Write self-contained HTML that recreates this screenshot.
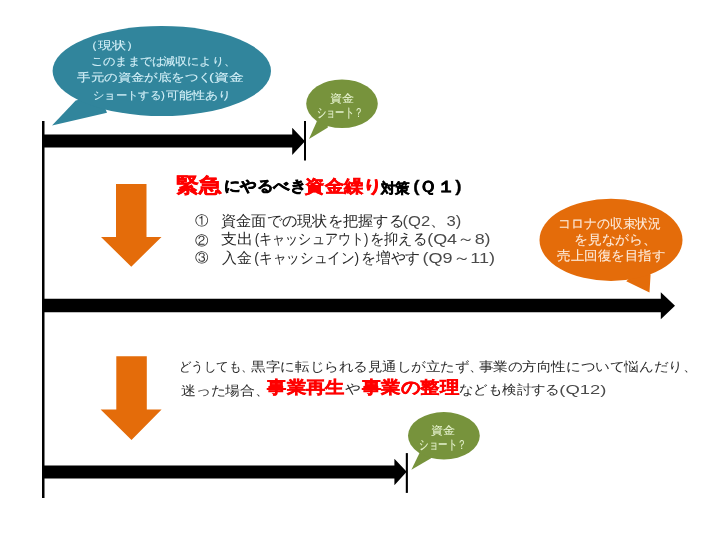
<!DOCTYPE html>
<html lang="ja">
<head>
<meta charset="utf-8">
<style>
html,body{margin:0;padding:0;background:#fff;}
body{width:720px;height:540px;overflow:hidden;font-family:"Liberation Sans",sans-serif;}
svg{display:block;will-change:transform;}
text{font-family:"Liberation Sans",sans-serif;}
</style>
</head>
<body>
<svg width="720" height="540" viewBox="0 0 720 540">
<rect x="42" y="121" width="2.5" height="377" fill="#000"/>
<path d="M75.7,100.5 L52,125.6 L107,112.7 L100,95 Z" fill="#31859C"/>
<ellipse cx="161.8" cy="71" rx="109.2" ry="45" fill="#31859C"/>
<path d="M43,134.4 L292.2,134.4 L292.2,127.8 L305,141.3 L292.2,155 L292.2,147.6 L43,147.6 Z" fill="#000"/>
<rect x="304" y="121" width="2" height="39.5" fill="#000"/>
<path d="M316.8,121.6 L309,139.1 L327.9,127.5 L326,115 Z" fill="#77933C"/>
<ellipse cx="342" cy="103.8" rx="35.8" ry="24.3" fill="#77933C"/>
<path d="M116,184 L146.5,184 L146.5,237 L161.5,237 L131.25,266.7 L101,237 L116,237 Z" fill="#E46C0A"/>
<path d="M626.25,281.25 L649.5,292.5 L650.6,274.4 L640,268 Z" fill="#E46C0A"/>
<ellipse cx="611" cy="239.9" rx="71.5" ry="41.1" fill="#E46C0A"/>
<path d="M43,298.75 L660.8,298.75 L660.8,292.2 L675,305.7 L660.8,319.2 L660.8,312.2 L43,312.2 Z" fill="#000"/>
<path d="M116.3,356.3 L146.8,356.3 L146.8,409.6 L161.6,409.6 L131.5,440.1 L100.6,409.6 L116.3,409.6 Z" fill="#E46C0A"/>
<path d="M43,465.4 L394.4,465.4 L394.4,458.7 L406.7,471.7 L394.4,485.2 L394.4,478.6 L43,478.6 Z" fill="#000"/>
<rect x="405.8" y="453.1" width="2.1" height="39.8" fill="#000"/>
<path d="M419.5,453 L411.4,469.8 L431.1,458.2 L429,447 Z" fill="#77933C"/>
<ellipse cx="443.9" cy="435.8" rx="35.9" ry="23.7" fill="#77933C"/>

<text id="t1" x="84.39" y="48.50" font-size="11.20" fill="#D4F0F8" stroke="#D4F0F8" stroke-width="0.1" textLength="56.15" lengthAdjust="spacingAndGlyphs">（現状）</text>
<text id="t2b" x="162.86" y="65.40" font-size="11.20" fill="#D4F0F8" stroke="#D4F0F8" stroke-width="0.1" textLength="73.16" lengthAdjust="spacingAndGlyphs">減収により、</text>
<text id="t2a" x="90.70" y="65.40" font-size="11.20" fill="#D4F0F8" stroke="#D4F0F8" stroke-width="0.1" textLength="73.72" lengthAdjust="spacingAndGlyphs">このままでは</text>
<text id="t3a" x="77.31" y="81.25" font-size="11.20" fill="#D4F0F8" stroke="#D4F0F8" stroke-width="0.1" textLength="134.40" lengthAdjust="spacingAndGlyphs">手元の資金が底をつく</text>
<text id="t3b" x="208.99" y="81.25" font-size="11.20" fill="#D4F0F8" stroke="#D4F0F8" stroke-width="0.1" textLength="35.18" lengthAdjust="spacingAndGlyphs">(資金</text>
<text id="t4b" x="166.05" y="99.00" font-size="11.20" fill="#D4F0F8" stroke="#D4F0F8" stroke-width="0.1" textLength="64.92" lengthAdjust="spacingAndGlyphs">可能性あり</text>
<text id="t4a" x="92.91" y="99.00" font-size="11.20" fill="#D4F0F8" stroke="#D4F0F8" stroke-width="0.1" textLength="71.85" lengthAdjust="spacingAndGlyphs">ショートする)</text>
<text id="g1a" x="329.59" y="102.00" font-size="10.70" fill="#E6F3CF" stroke="#E6F3CF" stroke-width="0.1" textLength="24.13" lengthAdjust="spacingAndGlyphs">資金</text>
<text id="g1b" x="316.90" y="117.20" font-size="12.70" fill="#E6F3CF" stroke="#E6F3CF" stroke-width="0.1" textLength="46.36" lengthAdjust="spacingAndGlyphs">ショート？</text>
<text id="k1" x="175.98" y="191.50" font-size="19.57" fill="#FF0000" font-weight="bold" stroke="#FF0000" stroke-width="0.6" textLength="45.21" lengthAdjust="spacingAndGlyphs">緊急</text>
<text id="k2" x="223.74" y="191.00" font-size="15.40" fill="#000000" font-weight="bold" stroke="#000000" stroke-width="0.55" textLength="82.23" lengthAdjust="spacingAndGlyphs">にやるべき</text>
<text id="k3" x="305.36" y="191.70" font-size="17.36" fill="#FF0000" font-weight="bold" stroke="#FF0000" stroke-width="0.55" textLength="76.86" lengthAdjust="spacingAndGlyphs">資金繰り</text>
<text id="k4" x="380.86" y="192.50" font-size="14.28" fill="#000000" font-weight="bold" stroke="#000000" stroke-width="0.55" textLength="28.97" lengthAdjust="spacingAndGlyphs">対策</text>
<text id="k5" x="413.17" y="192.00" font-size="16.34" fill="#000000" font-weight="bold" stroke="#000000" stroke-width="0.3" textLength="48.27" lengthAdjust="spacingAndGlyphs">(Ｑ１)</text>
<text id="n1" x="195.22" y="225.30" font-size="12.60" fill="#2A2A2A" textLength="13.49" lengthAdjust="spacingAndGlyphs">①</text>
<text id="l1a" x="220.77" y="225.60" font-size="15.30" fill="#2A2A2A" textLength="183.27" lengthAdjust="spacingAndGlyphs">資金面での現状を把握する</text>
<text id="l1b" x="402.41" y="225.60" font-size="15.30" fill="#4A4A4A" textLength="58.87" lengthAdjust="spacingAndGlyphs">(Q2、3)</text>
<text id="n2" x="195.22" y="244.60" font-size="12.60" fill="#2A2A2A" textLength="13.49" lengthAdjust="spacingAndGlyphs">②</text>
<text id="l2a" x="220.69" y="244.40" font-size="15.30" fill="#2A2A2A" textLength="32.18" lengthAdjust="spacingAndGlyphs">支出</text>
<text id="l2b" x="254.77" y="244.40" font-size="15.30" fill="#2A2A2A" textLength="113.66" lengthAdjust="spacingAndGlyphs">(キャッシュアウト)</text>
<text id="l2c" x="369.84" y="244.40" font-size="15.30" fill="#2A2A2A" textLength="56.92" lengthAdjust="spacingAndGlyphs">を抑える</text>
<text id="l2d" x="427.16" y="244.40" font-size="15.30" fill="#4A4A4A" textLength="63.45" lengthAdjust="spacingAndGlyphs">(Q4～8)</text>
<text id="n3" x="195.22" y="262.20" font-size="12.60" fill="#2A2A2A" textLength="13.49" lengthAdjust="spacingAndGlyphs">③</text>
<text id="l3a" x="222.38" y="262.90" font-size="15.30" fill="#2A2A2A" textLength="29.85" lengthAdjust="spacingAndGlyphs">入金</text>
<text id="l3b" x="254.36" y="262.90" font-size="15.30" fill="#2A2A2A" textLength="104.67" lengthAdjust="spacingAndGlyphs">(キャッシュイン)</text>
<text id="l3c" x="361.07" y="262.90" font-size="15.30" fill="#2A2A2A" textLength="59.22" lengthAdjust="spacingAndGlyphs">を増やす</text>
<text id="l3d" x="422.41" y="262.90" font-size="15.30" fill="#4A4A4A" textLength="72.62" lengthAdjust="spacingAndGlyphs">(Q9～11)</text>
<text id="o1" x="558.36" y="227.70" font-size="12.60" fill="#FDEADA" stroke="#FDEADA" stroke-width="0.1" textLength="102.66" lengthAdjust="spacingAndGlyphs">コロナの収束状況</text>
<text id="o2" x="574.11" y="243.60" font-size="12.60" fill="#FDEADA" stroke="#FDEADA" stroke-width="0.1" textLength="82.73" lengthAdjust="spacingAndGlyphs">を見ながら、</text>
<text id="o3" x="557.41" y="259.70" font-size="12.60" fill="#FDEADA" stroke="#FDEADA" stroke-width="0.1" textLength="107.67" lengthAdjust="spacingAndGlyphs">売上回復を目指す</text>
<text id="p1b" x="251.44" y="370.50" font-size="13.10" fill="#2A2A2A" textLength="232.30" lengthAdjust="spacingAndGlyphs">黒字に転じられる見通しが立たず、</text>
<text id="p1a" x="178.81" y="370.50" font-size="13.10" fill="#2A2A2A" textLength="74.73" lengthAdjust="spacingAndGlyphs">どうしても、</text>
<text id="p1c" x="478.59" y="370.50" font-size="13.10" fill="#2A2A2A" textLength="218.76" lengthAdjust="spacingAndGlyphs">事業の方向性について悩んだり、</text>
<text id="p2" x="180.67" y="394.55" font-size="13.10" fill="#2A2A2A" textLength="89.59" lengthAdjust="spacingAndGlyphs">迷った場合、</text>
<text id="r1" x="267.29" y="393.40" font-size="16.70" fill="#FF0000" font-weight="bold" stroke="#FF0000" stroke-width="0.4" textLength="77.45" lengthAdjust="spacingAndGlyphs">事業再生</text>
<text id="p3" x="345.38" y="393.20" font-size="13.10" fill="#2A2A2A" textLength="15.59" lengthAdjust="spacingAndGlyphs">や</text>
<text id="r2" x="361.90" y="393.20" font-size="16.70" fill="#FF0000" font-weight="bold" stroke="#FF0000" stroke-width="0.4" textLength="97.15" lengthAdjust="spacingAndGlyphs">事業の整理</text>
<text id="p4a" x="458.97" y="393.80" font-size="13.10" fill="#2A2A2A" textLength="100.90" lengthAdjust="spacingAndGlyphs">なども検討する</text>
<text id="p4b" x="559.33" y="393.80" font-size="13.10" fill="#4A4A4A" textLength="47.09" lengthAdjust="spacingAndGlyphs">(Q12)</text>
<text id="g2a" x="431.32" y="433.50" font-size="10.70" fill="#E6F3CF" stroke="#E6F3CF" stroke-width="0.1" textLength="24.20" lengthAdjust="spacingAndGlyphs">資金</text>
<text id="g2b" x="419.24" y="448.80" font-size="12.70" fill="#E6F3CF" stroke="#E6F3CF" stroke-width="0.1" textLength="47.36" lengthAdjust="spacingAndGlyphs">ショート？</text>
</svg>
</body>
</html>
